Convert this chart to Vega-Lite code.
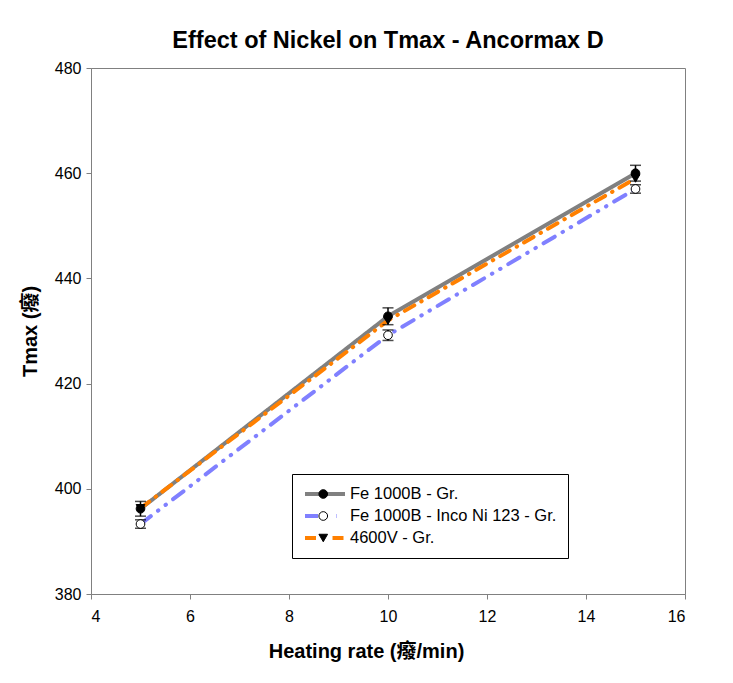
{
  "$schema": "https://vega.github.io/schema/vega-lite/v6.json",
  "width": 594,
  "height": 526,
  "autosize": {"type": "none"},
  "padding": {"left": 91, "top": 68, "right": 48, "bottom": 89},
  "background": "white",
  "title": {
    "text": "Effect of Nickel on Tmax - Ancormax D",
    "fontSize": 23.5,
    "fontWeight": "bold",
    "anchor": "middle",
    "offset": 8,
    "color": "black"
  },
  "data": {
    "values": [
      {"rate": 5, "tmax": 396.2, "err": 1.4, "series": "Fe 1000B - Gr.", "series_no": 1},
      {"rate": 10, "tmax": 432.8, "err": 1.6, "series": "Fe 1000B - Gr.", "series_no": 1},
      {"rate": 15, "tmax": 460.0, "err": 1.5, "series": "Fe 1000B - Gr.", "series_no": 1},
      {"rate": 5, "tmax": 393.3, "err": 0.8, "series": "Fe 1000B - Inco Ni 123 - Gr.", "series_no": 2},
      {"rate": 10, "tmax": 429.2, "err": 1.0, "series": "Fe 1000B - Inco Ni 123 - Gr.", "series_no": 2},
      {"rate": 15, "tmax": 457.0, "err": 0.8, "series": "Fe 1000B - Inco Ni 123 - Gr.", "series_no": 2},
      {"rate": 5, "tmax": 396.3, "err": null, "series": "4600V - Gr.", "series_no": 3},
      {"rate": 10, "tmax": 432.0, "err": null, "series": "4600V - Gr.", "series_no": 3},
      {"rate": 15, "tmax": 459.0, "err": null, "series": "4600V - Gr.", "series_no": 3}
    ]
  },
  "encoding": {
    "x": {
      "field": "rate",
      "type": "quantitative",
      "scale": {"domain": [4, 16], "nice": false, "zero": false},
      "axis": {
        "title": "Heating rate (癈/min)",
        "values": [4, 6, 8, 10, 12, 14, 16],
        "grid": false,
        "tickSize": 5,
        "labelPadding": 9,
        "titlePadding": 17,
        "titleX": 275
      }
    },
    "y": {
      "field": "tmax",
      "type": "quantitative",
      "scale": {"domain": [380, 480], "nice": false, "zero": false},
      "axis": {
        "title": "Tmax (癈)",
        "values": [380, 400, 420, 440, 460, 480],
        "grid": false,
        "tickSize": 5,
        "labelPadding": 5,
        "titlePadding": 14
      }
    }
  },
  "layer": [
    {
      "mark": {"type": "line", "strokeWidth": 4, "strokeCap": "round"},
      "encoding": {
        "color": {
          "field": "series",
          "type": "nominal",
          "scale": {
            "domain": ["Fe 1000B - Gr.", "Fe 1000B - Inco Ni 123 - Gr.", "4600V - Gr."],
            "range": ["#808080", "#8080FF", "#FF8000"]
          },
          "legend": {
            "title": null,
            "orient": "none",
            "legendX": 201,
            "legendY": 406,
            "padding": 11,
            "clipHeight": 18,
            "rowPadding": 4,
            "symbolType": "stroke",
            "symbolSize": 1600,
            "symbolStrokeWidth": 4,
            "labelFontSize": 16.5,
            "labelLimit": 400,
            "labelOffset": 3,
            "labelColor": "black",
            "strokeColor": "black",
            "fillColor": "white"
          }
        },
        "strokeDash": {
          "field": "series",
          "type": "nominal",
          "scale": {
            "domain": ["Fe 1000B - Gr.", "Fe 1000B - Inco Ni 123 - Gr.", "4600V - Gr."],
            "range": [[1, 0], [13, 9, 0.5, 9, 0.5, 9], [11, 8, 0.5, 8]]
          },
          "legend": {
            "title": null,
            "orient": "none",
            "legendX": 201,
            "legendY": 406,
            "padding": 11,
            "clipHeight": 18,
            "rowPadding": 4,
            "symbolType": "stroke",
            "symbolSize": 1600,
            "symbolStrokeWidth": 4,
            "labelFontSize": 16.5,
            "labelLimit": 400,
            "labelOffset": 3,
            "labelColor": "black",
            "strokeColor": "black",
            "fillColor": "white"
          }
        }
      }
    },
    {
      "transform": [{"filter": "isValid(datum.err)"}],
      "mark": {"type": "errorbar", "ticks": {"size": 11, "thickness": 1.5}, "color": "black", "thickness": 1.5},
      "encoding": {
        "y": {"field": "tmax", "type": "quantitative"},
        "yError": {"field": "err"}
      }
    },
    {
      "mark": {"type": "point", "filled": true, "size": 75, "stroke": "black", "strokeWidth": 1, "opacity": 1},
      "encoding": {
        "shape": {
          "field": "series_no",
          "type": "nominal",
          "scale": {"range": ["circle", "circle", "triangle-down"]},
          "legend": {
            "title": null,
            "orient": "none",
            "legendX": 213,
            "legendY": 406,
            "padding": 11,
            "clipHeight": 18,
            "rowPadding": 4,
            "symbolSize": 75,
            "symbolStrokeColor": "black",
            "symbolStrokeWidth": 1,
            "labelFontSize": 16.5,
            "labelOpacity": 0,
            "labelLimit": 400,
            "encode": {"symbols": {"update": {"stroke": {"value": "black"}, "strokeWidth": {"value": 1}}}}
          }
        },
        "fill": {
          "field": "series_no",
          "type": "nominal",
          "scale": {"range": ["black", "white", "black"]},
          "legend": {
            "title": null,
            "orient": "none",
            "legendX": 213,
            "legendY": 406,
            "padding": 11,
            "clipHeight": 18,
            "rowPadding": 4,
            "symbolSize": 75,
            "symbolStrokeColor": "black",
            "symbolStrokeWidth": 1,
            "labelFontSize": 16.5,
            "labelOpacity": 0,
            "labelLimit": 400,
            "encode": {"symbols": {"update": {"stroke": {"value": "black"}, "strokeWidth": {"value": 1}}}}
          }
        }
      }
    }
  ],
  "config": {
    "font": "Liberation Sans, Arial, Noto Sans CJK SC, sans-serif",
    "view": {"stroke": "#808080", "strokeWidth": 1},
    "axis": {
      "domainColor": "#808080",
      "tickColor": "#808080",
      "labelColor": "black",
      "labelFontSize": 16,
      "titleFontSize": 20,
      "titleFontWeight": "bold",
      "titleColor": "black"
    },
    "legend": {"symbolOpacity": 1}
  }
}
